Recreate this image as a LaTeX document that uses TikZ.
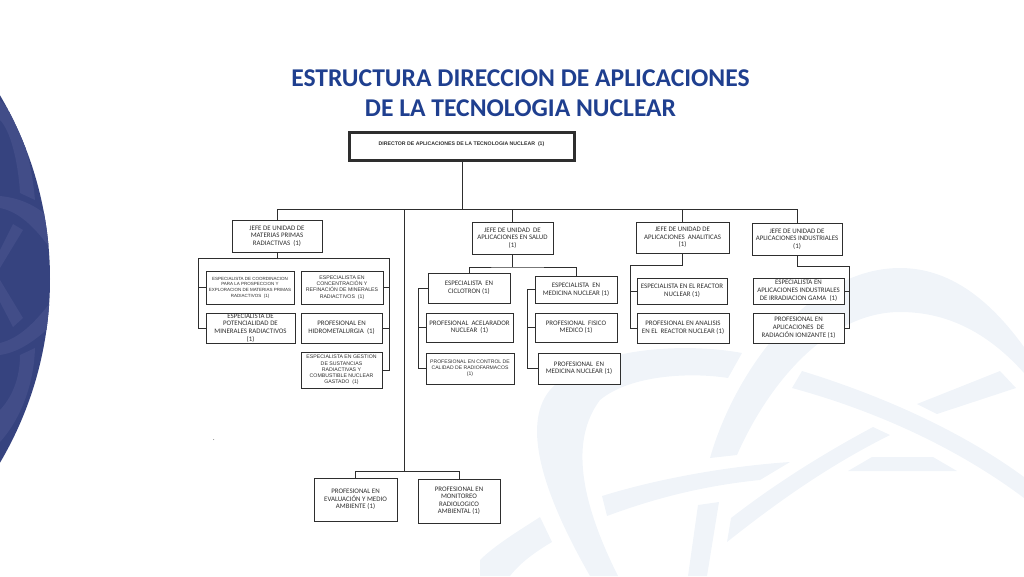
\documentclass[tikz,border=0pt]{standalone}
\usepackage{fontspec}
\setmainfont{Carlito}
\newfontfamily\arialfont{Liberation Sans}
\definecolor{navy}{HTML}{36437F}
\definecolor{navylight}{HTML}{424D88}
\definecolor{mark}{HTML}{F0F4F9}
\definecolor{titleblue}{HTML}{1F3F8F}
\definecolor{linegray}{HTML}{2E2E2E}
\tikzset{
	orgbox/.style={draw=linegray,line width=0.95pt,fill=white,inner sep=0pt,align=center,text=linegray,font=\fontsize{6.9}{7.6}\selectfont},
	smallbox/.style={orgbox,font=\arialfont\fontsize{4.5}{5.6}\selectfont},
	conn/.style={draw=linegray,line width=0.85pt},
	band/.style={fill=mark,draw=none},
	navyband/.style={fill=navylight,draw=none},
}
\begin{document}
\begin{tikzpicture}[x=1pt,y=-1pt]
		\useasboundingbox (0,0) rectangle (1024,576);
		%
		% background marks
		\begin{scope}
		\clip (0,0) rectangle (1024,576);
		\fill[band] (742,353) .. controls (690,343) and (590,345) .. (550,390) .. controls (525,420) and (535,480) .. (590,576) -- (618,576) .. controls (580,500) and (570,440) .. (600,400) .. controls (630,375) and (690,372) .. (728,378) -- cycle;
		\fill[band] (710,458) .. controls (735,370) and (810,268) .. (900,268) .. controls (950,268) and (990,300) .. (1024,347) -- (1024,373) .. controls (990,335) and (950,312) .. (900,312) .. controls (830,312) and (770,380) .. (737,455) -- cycle;
		\fill[band] (802,371) .. controls (880,395) and (960,430) .. (1024,477) -- (1024,498) .. controls (960,450) and (880,412) .. (792,388) -- cycle;
		\fill[band] (917,404) -- (1000,371) -- (1016,388) -- (937,414) -- cycle;
		\fill[band] (873,427) -- (890,435) .. controls (830,465) and (780,500) .. (727,542) -- (731,518) .. controls (780,480) and (830,450) .. (873,427) -- cycle;
		\fill[band] (848,471) -- (872,457) -- (933,457) -- (957,471) -- cycle;
		\fill[band] (602,496) .. controls (660,478) and (730,466) .. (790,462) -- (760,480) .. controls (700,486) and (650,500) .. (607,516) -- cycle;
		\fill[band] (698,505) -- (719,502) -- (707,576) -- (688,576) -- cycle;
		\fill[band] (480,560) .. controls (495,545) and (520,530) .. (540,517) -- (552,542) .. controls (535,552) and (520,563) .. (510,576) -- (480,576) -- cycle;
		\end{scope}
		\begin{scope}
		\clip (-312,279) circle (362);
		\fill[navy] (0,90) rectangle (60,470);
		\fill[navyband] (0,196) .. controls (20,198) and (35,205) .. (50,218) -- (50,248) .. controls (35,228) and (20,212) .. (0,208) -- cycle;
		\fill[navyband] (0,355) .. controls (20,352) and (35,340) .. (50,327) -- (50,303) .. controls (35,322) and (20,338) .. (0,343) -- cycle;
		\fill[navyband] (13,224) -- (23,230) -- (0,268) -- (0,250) -- cycle;
		\fill[navyband] (0,280) -- (23,318) -- (13,327) -- (0,302) -- cycle;
		\fill[navyband] (0,100) .. controls (15,115) and (30,145) .. (35,200) -- (20,193) .. controls (18,160) and (10,130) .. (0,120) -- cycle;
		\fill[navyband] (20,355) -- (35,348) .. controls (34,385) and (20,420) .. (0,442) -- (0,410) .. controls (14,395) and (20,375) .. (20,355) -- cycle;
		\end{scope}
		%
		\node[font=\bfseries\fontsize{25.6}{30}\selectfont,text=titleblue,align=center,inner sep=0pt] (titulo) at (520.5,93) {ESTRUCTURA DIRECCION DE APLICACIONES\\DE LA TECNOLOGIA NUCLEAR};
		\node[orgbox,line width=3pt,minimum width=225,minimum height=28,font=\arialfont\bfseries\fontsize{5.2}{6.5}\selectfont] (director) at (461.5,146) {\raisebox{4pt}{DIRECTOR DE APLICACIONES DE LA TECNOLOGIA NUCLEAR\ \ (1)}};
		%
		\node[orgbox,minimum width=90,minimum height=32] (jefemp) at (277,236) {JEFE DE UNIDAD DE\\MATERIAS PRIMAS\\RADIACTIVAS\ \ (1)};
		\node[orgbox,minimum width=81,minimum height=32] (jefesalud) at (512.5,238) {JEFE DE UNIDAD\ \ DE\\APLICACIONES EN SALUD\\(1)};
		\node[orgbox,minimum width=93,minimum height=31] (jefeanal) at (682.5,237.5) {JEFE DE UNIDAD DE\\APLICACIONES\ \ ANALITICAS\\(1)};
		\node[orgbox,minimum width=90,minimum height=32] (jefeind) at (797,239) {JEFE DE UNIDAD DE\\APLICACIONES INDUSTRIALES\\(1)};
		%
		\node[smallbox,minimum width=88,minimum height=33] (coordinacion) at (250,287.5) {ESPECIALISTA DE COORDINACION\\PARA LA PROSPECCION Y\\EXPLORACION DE MATERIAS PRIMAS\\RADIACTIVOS\ \ (1)};
		\node[smallbox,minimum width=82,minimum height=33,font=\arialfont\fontsize{5.2}{6.2}\selectfont] (concentracion) at (342,287.5) {ESPECIALISTA EN\\CONCENTRACIÓN Y\\REFINACIÓN DE MINERALES\\RADIACTIVOS\ \ (1)};
		\node[orgbox,minimum width=89,minimum height=30] (potencialidad) at (250.5,328) {ESPECIALISTA DE\\POTENCIALIDAD DE\\MINERALES RADIACTIVOS\\(1)};
		\node[orgbox,minimum width=81,minimum height=30] (hidro) at (341.5,328) {PROFESIONAL EN\\HIDROMETALURGIA\ \ (1)};
		\node[smallbox,minimum width=81,minimum height=36,font=\arialfont\fontsize{5.2}{6.2}\selectfont] (gestion) at (341.5,370) {ESPECIALISTA EN GESTION\\DE SUSTANCIAS\\RADIACTIVAS Y\\COMBUSTIBLE NUCLEAR\\GASTADO\ \ (1)};
		%
		\node[orgbox,minimum width=82,minimum height=30] (ciclotron) at (469,288) {\raisebox{3pt}{\begin{tabular}{@{}c@{}}ESPECIALISTA\ \ EN\\CICLOTRON (1)\end{tabular}}};
		\node[orgbox,minimum width=82,minimum height=27] (medicina) at (576,289.5) {ESPECIALISTA\ \ EN\\MEDICINA NUCLEAR (1)};
		\node[orgbox,minimum width=87,minimum height=29] (acelerador) at (469.5,327.5) {\raisebox{2pt}{\begin{tabular}{@{}c@{}}PROFESIONAL\ \ ACELARADOR\\NUCLEAR\ \ (1)\end{tabular}}};
		\node[orgbox,minimum width=82,minimum height=29] (fisico) at (576,327.5) {\raisebox{2pt}{\begin{tabular}{@{}c@{}}PROFESIONAL\ \ FISICO\\MEDICO (1)\end{tabular}}};
		\node[smallbox,minimum width=88,minimum height=31,font=\arialfont\fontsize{5.1}{5.8}\selectfont] (calidad) at (470,368.5) {PROFESIONAL EN CONTROL DE\\CALIDAD DE RADIOFARMACOS\\(1)};
		\node[orgbox,minimum width=82,minimum height=31] (profmedicina) at (579,368.5) {\raisebox{2pt}{\begin{tabular}{@{}c@{}}PROFESIONAL\ \ EN\\MEDICINA NUCLEAR (1)\end{tabular}}};
		%
		\node[orgbox,minimum width=90,minimum height=26] (reactor) at (682,291) {ESPECIALISTA EN EL REACTOR\\NUCLEAR (1)};
		\node[orgbox,minimum width=92,minimum height=30] (analisis) at (683,328) {\raisebox{2pt}{\begin{tabular}{@{}c@{}}PROFESIONAL EN ANALISIS\\EN EL\ \ REACTOR NUCLEAR (1)\end{tabular}}};
		\node[orgbox,minimum width=91,minimum height=26] (irradiacion) at (798.5,291) {\raisebox{2pt}{\begin{tabular}{@{}c@{}}ESPECIALISTA EN\\APLICACIONES INDUSTRIALES\\DE IRRADIACION GAMA\ \ (1)\end{tabular}}};
		\node[orgbox,minimum width=91,minimum height=30] (ionizante) at (798.5,328) {\raisebox{3pt}{\begin{tabular}{@{}c@{}}PROFESIONAL EN\\APLICACIONES\ \ DE\\RADIACIÓN IONIZANTE (1)\end{tabular}}};
		%
		\node[orgbox,minimum width=83,minimum height=43] (evaluacion) at (355.5,499.5) {\raisebox{2pt}{\begin{tabular}{@{}c@{}}PROFESIONAL EN\\EVALUACIÓN Y MEDIO\\AMBIENTE (1)\end{tabular}}};
		\node[orgbox,minimum width=82,minimum height=44] (monitoreo) at (459,501) {\raisebox{3pt}{\begin{tabular}{@{}c@{}}PROFESIONAL EN\\MONITOREO\\RADIOLOGICO\\AMBIENTAL (1)\end{tabular}}};
		\node[inner sep=0pt,font=\fontsize{6}{7}\selectfont] (punto) at (214,440) {.};
		%
		\coordinate (bus) at (462,209);
		\coordinate (busl) at (277,209);
		\coordinate (busr) at (798,209);
		\coordinate (trunk) at (404,209);
		\coordinate (trunkend) at (404,471);
		\coordinate (mpbus) at (277,258);
		\coordinate (mpl) at (198,258);
		\coordinate (mpr) at (389,258);
		\coordinate (saludbus) at (512.5,267);
		\coordinate (cicl) at (418,288);
		\coordinate (medl) at (527,289.5);
		\coordinate (analbus) at (682.5,265);
		\coordinate (anall) at (630,265);
		\coordinate (indbus) at (797,266);
		\coordinate (indr) at (849,266);
		%
		\draw[conn] (director.south -| bus) -- (bus);
		\draw[conn] (busl) -- (busr);
		\draw[conn] (busl) -- (jefemp.north);
		\draw[conn] (jefesalud.north) -- (jefesalud.north |- bus);
		\draw[conn] (jefeanal.north) -- (jefeanal.north |- bus);
		\draw[conn] (jefeind.north) -- (jefeind.north |- bus);
		\draw[conn] (trunk) -- (trunkend);
		\draw[conn] (evaluacion.north) |- (trunkend) -| (monitoreo.north);
		%
		\draw[conn] (jefemp.south) -- (mpbus);
		\draw[conn] (mpl) -- (mpr);
		\foreach \b in {coordinacion,potencialidad}
			\draw[conn] (mpl) |- (\b.west);
		\foreach \b in {concentracion,hidro,gestion}
			\draw[conn] (mpr) |- (\b.east);
		%
		\draw[conn] (jefesalud.south) -- (saludbus);
		\draw[conn] (ciclotron.north) |- (saludbus) -| (medicina.north);
		\foreach \b in {ciclotron,acelerador,calidad}
			\draw[conn] (cicl) |- (\b.west);
		\foreach \b in {medicina,fisico,profmedicina}
			\draw[conn] (medl) |- (\b.west);
		%
		\draw[conn] (jefeanal.south) -- (analbus) -- (anall);
		\foreach \b in {reactor,analisis}
			\draw[conn] (anall) |- (\b.west);
		\draw[conn] (jefeind.south) -- (indbus) -- (indr);
		\foreach \b in {irradiacion,ionizante}
			\draw[conn] (indr) |- (\b.east);
\end{tikzpicture}
\end{document}
